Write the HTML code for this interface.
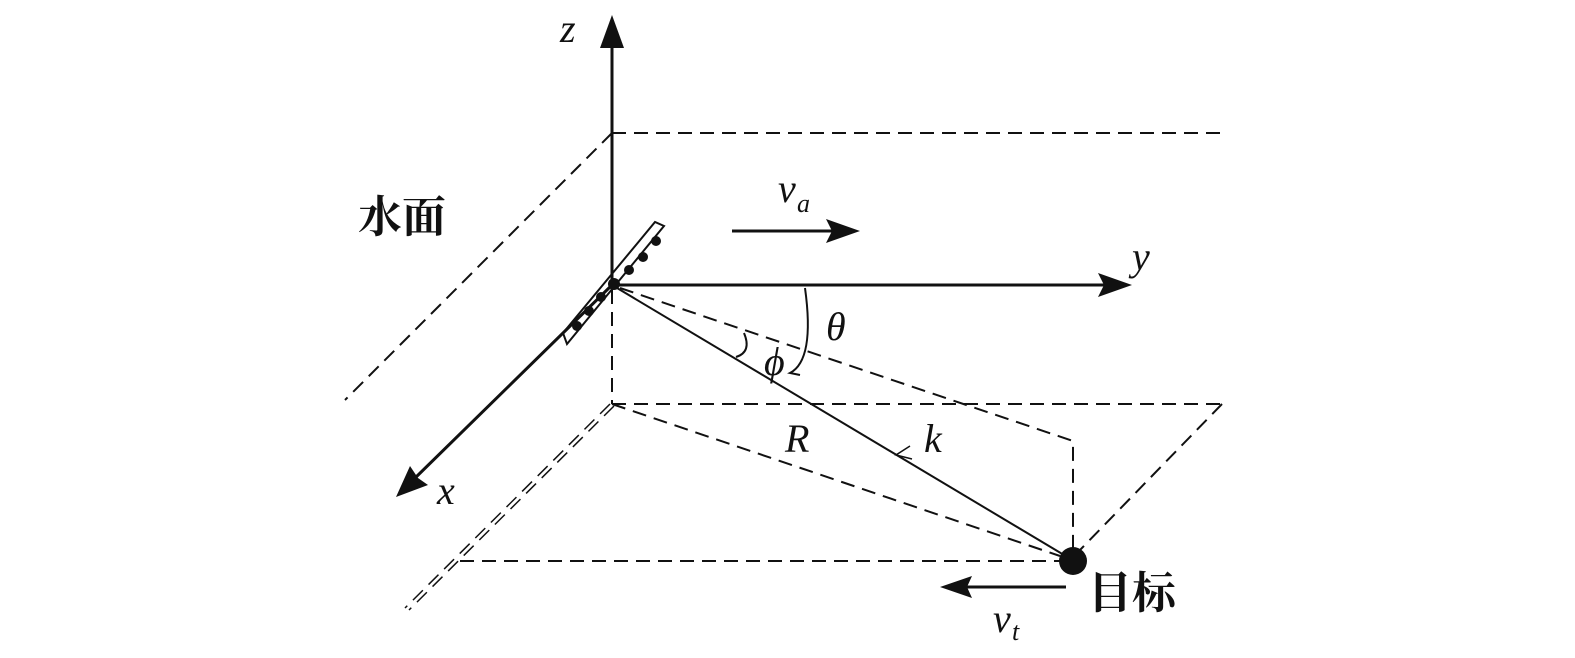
<!DOCTYPE html>
<html><head><meta charset="utf-8"><style>body{margin:0;background:#fff}svg{display:block}</style></head><body>
<svg width="1575" height="658" viewBox="0 0 1575 658" xmlns="http://www.w3.org/2000/svg">
<g stroke="#111" fill="none">
<g stroke-width="2" stroke-dasharray="14,8">
<line x1="612" y1="133" x2="1225" y2="133"/>
<line x1="612" y1="133" x2="345" y2="400"/>
<line x1="612" y1="290" x2="612" y2="404"/>
<line x1="612" y1="404" x2="1222" y2="404"/>
<line x1="1222" y1="404" x2="1080" y2="550"/>
<line x1="460" y1="561" x2="1060" y2="561"/>
<line x1="612" y1="404" x2="1060" y2="556"/>
<polyline points="620,288 1073,441 1073,548"/>
<line x1="610" y1="404" x2="405" y2="608" stroke-width="1.5"/>
<line x1="614" y1="406" x2="409" y2="610" stroke-width="1.5"/>
</g>
<line x1="612" y1="290" x2="612" y2="40" stroke-width="3"/>
<line x1="612" y1="285" x2="1110" y2="285" stroke-width="3"/>
<line x1="612" y1="285" x2="412" y2="481" stroke-width="3"/>
<line x1="612" y1="285" x2="1064" y2="555" stroke-width="2"/>
<polyline points="910,446 896,455 912,459" stroke-width="1.5"/>
<path d="M805,288 Q815,360 790,373 L800,375" stroke-width="2"/>
<path d="M744,333 Q752,352 736,357" stroke-width="2"/>
<line x1="732" y1="231" x2="840" y2="231" stroke-width="3"/>
<line x1="1066" y1="587" x2="960" y2="587" stroke-width="3"/>
<polygon points="563,333 655,222 664,226 567,344" stroke-width="2"/>
</g>
<g fill="#111">
<polygon points="612,15 600,48 624,48"/>
<polygon points="1132,285 1098,273 1104,285 1098,297"/>
<polygon points="396,497 428,485 418,478 410,466"/>
<polygon points="860,231 826,219 832,231 826,243"/>
<polygon points="940,587 972,576 967,587 972,598"/>
<circle cx="1073" cy="561" r="14"/>
<circle cx="577" cy="326" r="5"/><circle cx="589" cy="311" r="5"/><circle cx="601" cy="297" r="5"/>
<circle cx="614" cy="284" r="6"/><circle cx="629" cy="270" r="5"/><circle cx="643" cy="257" r="5"/><circle cx="656" cy="241" r="5"/>
</g>
<g font-family="Liberation Serif, serif" font-style="italic" fill="#111" font-size="40">
<text x="560" y="42">z</text>
<text x="1132" y="270">y</text>
<text x="437" y="504">x</text>
<text x="826" y="340">θ</text>
<text x="764" y="375">ϕ</text>
<text x="785" y="452">R</text>
<text x="924" y="452">k</text>
<text x="778" y="202">v</text><text x="797" y="212" font-size="26">a</text>
<text x="993" y="632">v</text><text x="1012" y="640" font-size="26">t</text>
</g>
<g font-family="Liberation Sans, 'Noto Serif CJK SC', serif" font-weight="bold" fill="#111" font-size="44">
<text x="358" y="232">水面</text>
<text x="1088" y="608">目标</text>
</g>
</svg>
</body></html>
